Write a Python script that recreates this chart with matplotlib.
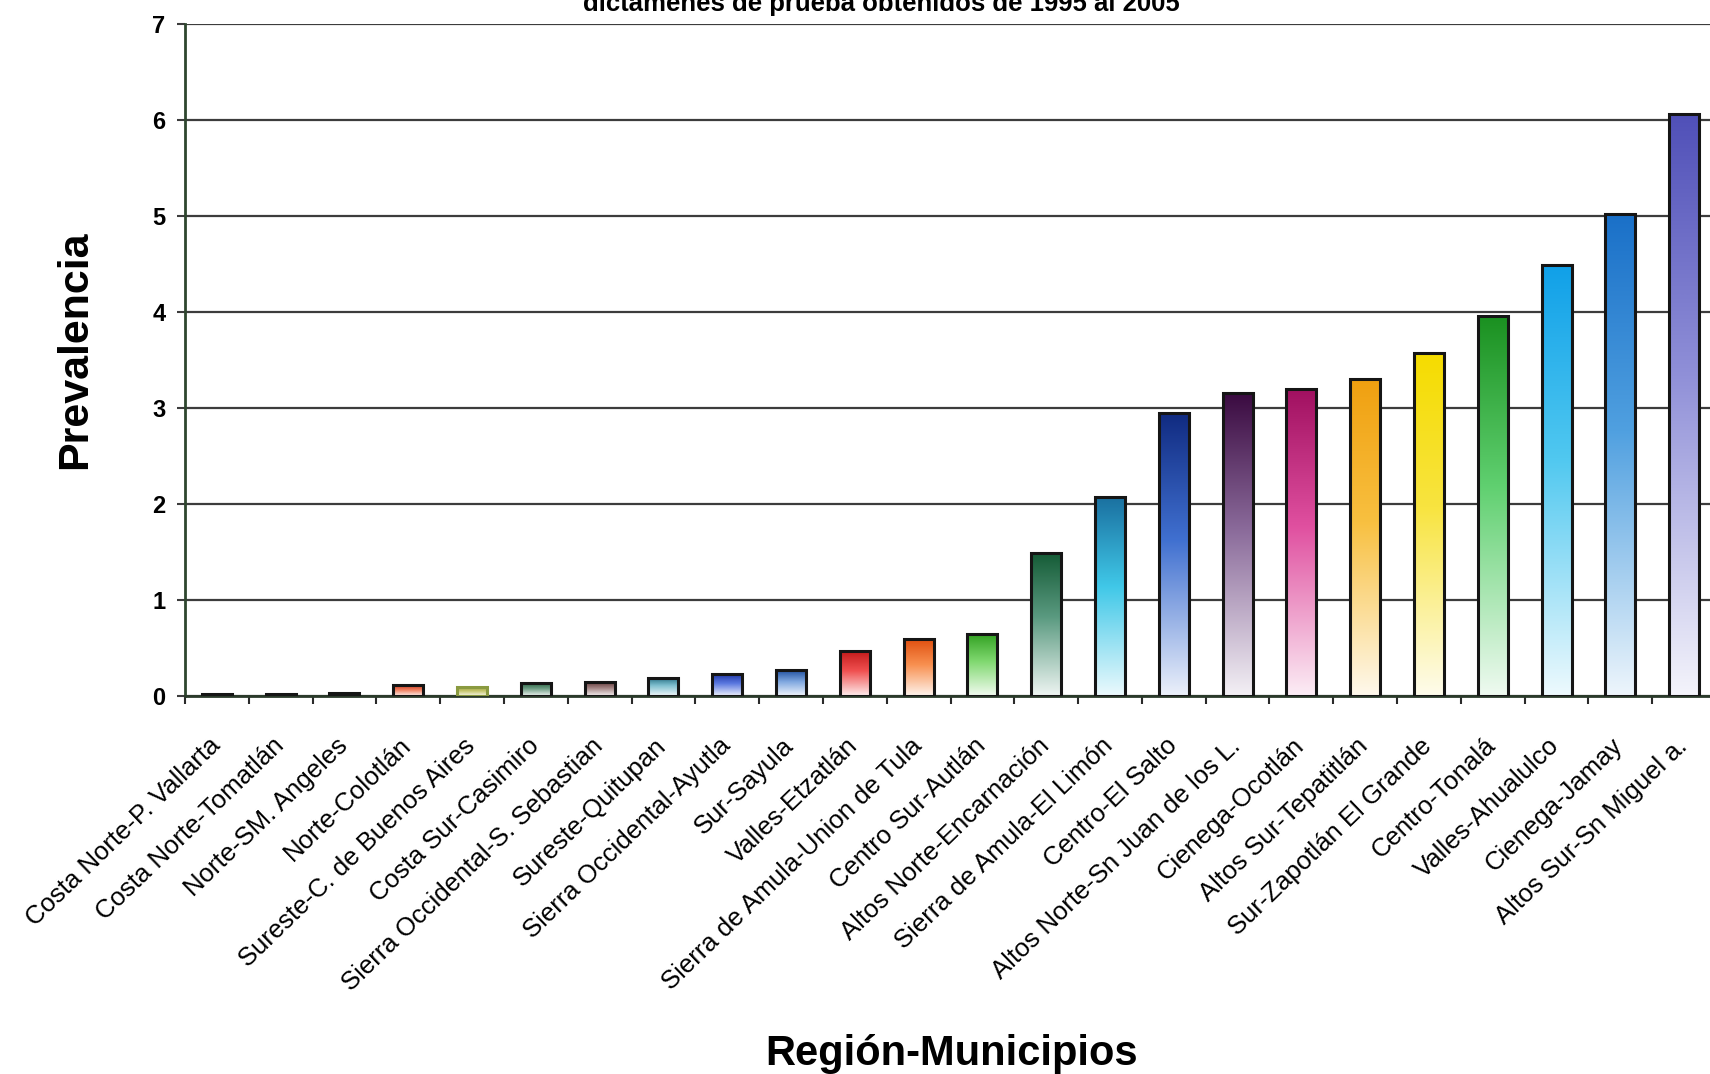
"""Prevalencia por region-municipio (dictamenes de prueba 1995-2005)."""

from matplotlib import pyplot
from matplotlib.colors import LinearSegmentedColormap, to_rgb
from matplotlib.transforms import ScaledTranslation
import numpy


regions = ['Costa Norte-P. Vallarta', 'Costa Norte-Tomatlán',
           'Norte-SM. Angeles', 'Norte-Colotlán',
           'Sureste-C. de Buenos Aires', 'Costa Sur-Casimiro',
           'Sierra Occidental-S. Sebastian', 'Sureste-Quitupan',
           'Sierra Occidental-Ayutla', 'Sur-Sayula', 'Valles-Etzatlán',
           'Sierra de Amula-Union de Tula', 'Centro Sur-Autlán',
           'Altos Norte-Encarnación', 'Sierra de Amula-El Limón',
           'Centro-El Salto', 'Altos Norte-Sn Juan de los L.',
           'Cienega-Ocotlán', 'Altos Sur-Tepatitlán',
           'Sur-Zapotlán El Grande', 'Centro-Tonalá', 'Valles-Ahualulco',
           'Cienega-Jamay', 'Altos Sur-Sn Miguel a.']
prevalence = [0.02, 0.02, 0.03, 0.11, 0.09, 0.14, 0.15, 0.19, 0.23, 0.27,
              0.47, 0.59, 0.65, 1.49, 2.07, 2.95, 3.16, 3.20, 3.30, 3.57,
              3.96, 4.49, 5.02, 6.06]

# Gradient colours of each bar (top, middle); bottom fades to white.
top_colors = ['#202020', '#202020', '#202020', '#c83a20', '#9aa040',
              '#1e5a3a', '#5a3030', '#206a80', '#1a30a0', '#2050a0',
              '#c01818', '#e05010', '#30a020', '#145a35', '#1a70a0',
              '#102a80', '#3a0a40', '#a01060', '#f0a010', '#f5dc00',
              '#1a9020', '#10a0e8', '#1a70c8', '#5050b8']
mid_colors = ['#505050', '#505050', '#505050', '#f08060', '#c8c870',
              '#6a9a80', '#a08080', '#80c0d0', '#5a78e0', '#80a8e0',
              '#f05050', '#f89050', '#80d870', '#5a9a80', '#40c8e8',
              '#4070d0', '#8a6a9a', '#e050a0', '#f8c040', '#f8e440',
              '#60d070', '#50c8f0', '#50a0e0', '#9090d8']
edge_colors = ['#151515'] * len(regions)
edge_colors[4] = '#8a9a40'

pyplot.rc('font', family=['Liberation Sans', 'DejaVu Sans'])
fig = pyplot.figure(figsize=(17.1, 10.74), dpi=100)
ax = fig.add_axes([185 / 1710, 1 - 696 / 1074,
                   (1716 - 185) / 1710, (696 - 24) / 1074])

x = numpy.arange(len(regions))
width = 0.47
grad = numpy.linspace(0.0, 1.0, 256).reshape(-1, 1)
for xi, h, top, mid in zip(x, prevalence, top_colors, mid_colors):
    bottom = 0.9 * numpy.ones(3) + 0.1 * numpy.array(to_rgb(mid))
    cmap = LinearSegmentedColormap.from_list(
        '', [(0.0, bottom), (0.55, to_rgb(mid)), (1.0, to_rgb(top))])
    ax.imshow(grad, extent=[xi - width / 2, xi + width / 2, 0, h],
              origin='lower', aspect='auto', cmap=cmap, zorder=2,
              interpolation='bilinear')
ax.bar(x, prevalence, width=width, fill=False, edgecolor=edge_colors,
       linewidth=2.2, zorder=3)

ax.set_xlim(-0.5, len(regions) - 0.5)
ax.set_ylim(0, 7)
ax.set_yticks(range(8))
ax.set_yticklabels([str(v) for v in range(8)], fontsize=17,
                   fontweight='bold')
ax.yaxis.grid(True, color='#3c3c3c', linewidth=1.6, zorder=0)
ax.set_axisbelow(True)
ax.tick_params(axis='y', length=6, width=1.5, pad=8, color='#3c3c3c')

# Excel-style ticks between categories, labels at the centres.
ax.set_xticks(numpy.arange(-0.5, len(regions), 1.0))
ax.set_xticklabels([])
ax.tick_params(axis='x', which='major', length=6, width=1.5,
               color='#2a2a2a')
ax.set_xticks(x, minor=True)
ax.set_xticklabels(regions, minor=True, rotation=44, ha='right',
                   rotation_mode='anchor', fontsize=18.5)
ax.tick_params(axis='x', which='minor', length=0, pad=27)
shift = ScaledTranslation(-0.09, 0, fig.dpi_scale_trans)
for label in ax.get_xticklabels(minor=True):
    label.set_transform(label.get_transform() + shift)

for side in ['top', 'right']:
    ax.spines[side].set_visible(False)
ax.spines['left'].set_color('#2e462e')
ax.spines['left'].set_linewidth(2)
ax.spines['bottom'].set_color('#2a3a2a')
ax.spines['bottom'].set_linewidth(2)

fig.text(75 / 1710, 1 - 350 / 1074, 'Prevalencia', rotation=90,
         fontsize=31, fontweight='bold', ha='center', va='center')
fig.text(952 / 1710, 0.019, 'Región-Municipios', fontsize=30,
         fontweight='bold', ha='center', va='center')
fig.text(881 / 1710, 1 - 11 / 1074,
         'dictámenes de prueba obtenidos de 1995 al 2005', fontsize=18.5,
         fontweight='bold', ha='center', va='baseline')

fig.savefig('out.png', dpi=100, facecolor='white')
